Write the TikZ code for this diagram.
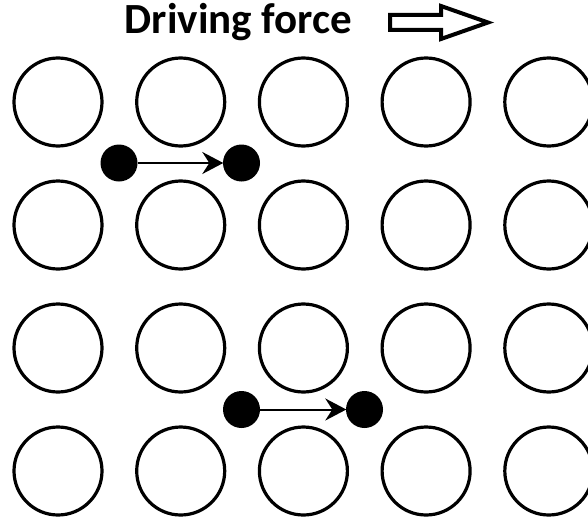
\documentclass[tikz,border=0pt]{standalone}
\usepackage{fontspec}
\setmainfont{Carlito}
\usetikzlibrary{arrows.meta}
\begin{document}
\begin{tikzpicture}[x=1pt,y=-1pt,
  site/.style={circle,draw=black,line width=3.2pt,minimum size=88pt,inner sep=0pt},
  carrier/.style={circle,fill=black,minimum size=37pt,inner sep=0pt},
  hop/.style={line width=2pt,-{Stealth[length=21pt,width=22pt,inset=7pt]},shorten >=-0.5pt},
  forcearrow/.style={draw=black,fill=white,line width=4pt,line join=miter}]
  \useasboundingbox (0,0) rectangle (588,519);
  % lattice of empty sites, 5 columns x 4 rows
  \foreach \c in {1,...,5}{
    \foreach \r in {1,...,4}{
      \node[site] (s\c\r) at ({58+122.7*(\c-1)},{102+123*(\r-1)}) {};
    }
  }
  % carriers hopping between sites
  \node[carrier] (a1) at (119,163) {};
  \node[carrier] (a2) at (241.5,163) {};
  \node[carrier] (b1) at (241.5,409.5) {};
  \node[carrier] (b2) at (364.5,409.5) {};
  \draw[hop] (a1) -- (a2);
  \draw[hop] (b1) -- (b2);
  % title and block arrow
  \node[anchor=base,font=\bfseries\fontsize{43}{48}\selectfont,inner sep=0pt] (title) at (238.5,33.5) {Driving force};
  \draw[forcearrow] (390,15) -- (441,15) -- (441,6) -- (488,22.5) -- (441,39) -- (441,30) -- (390,30) -- cycle;
\end{tikzpicture}
\end{document}
